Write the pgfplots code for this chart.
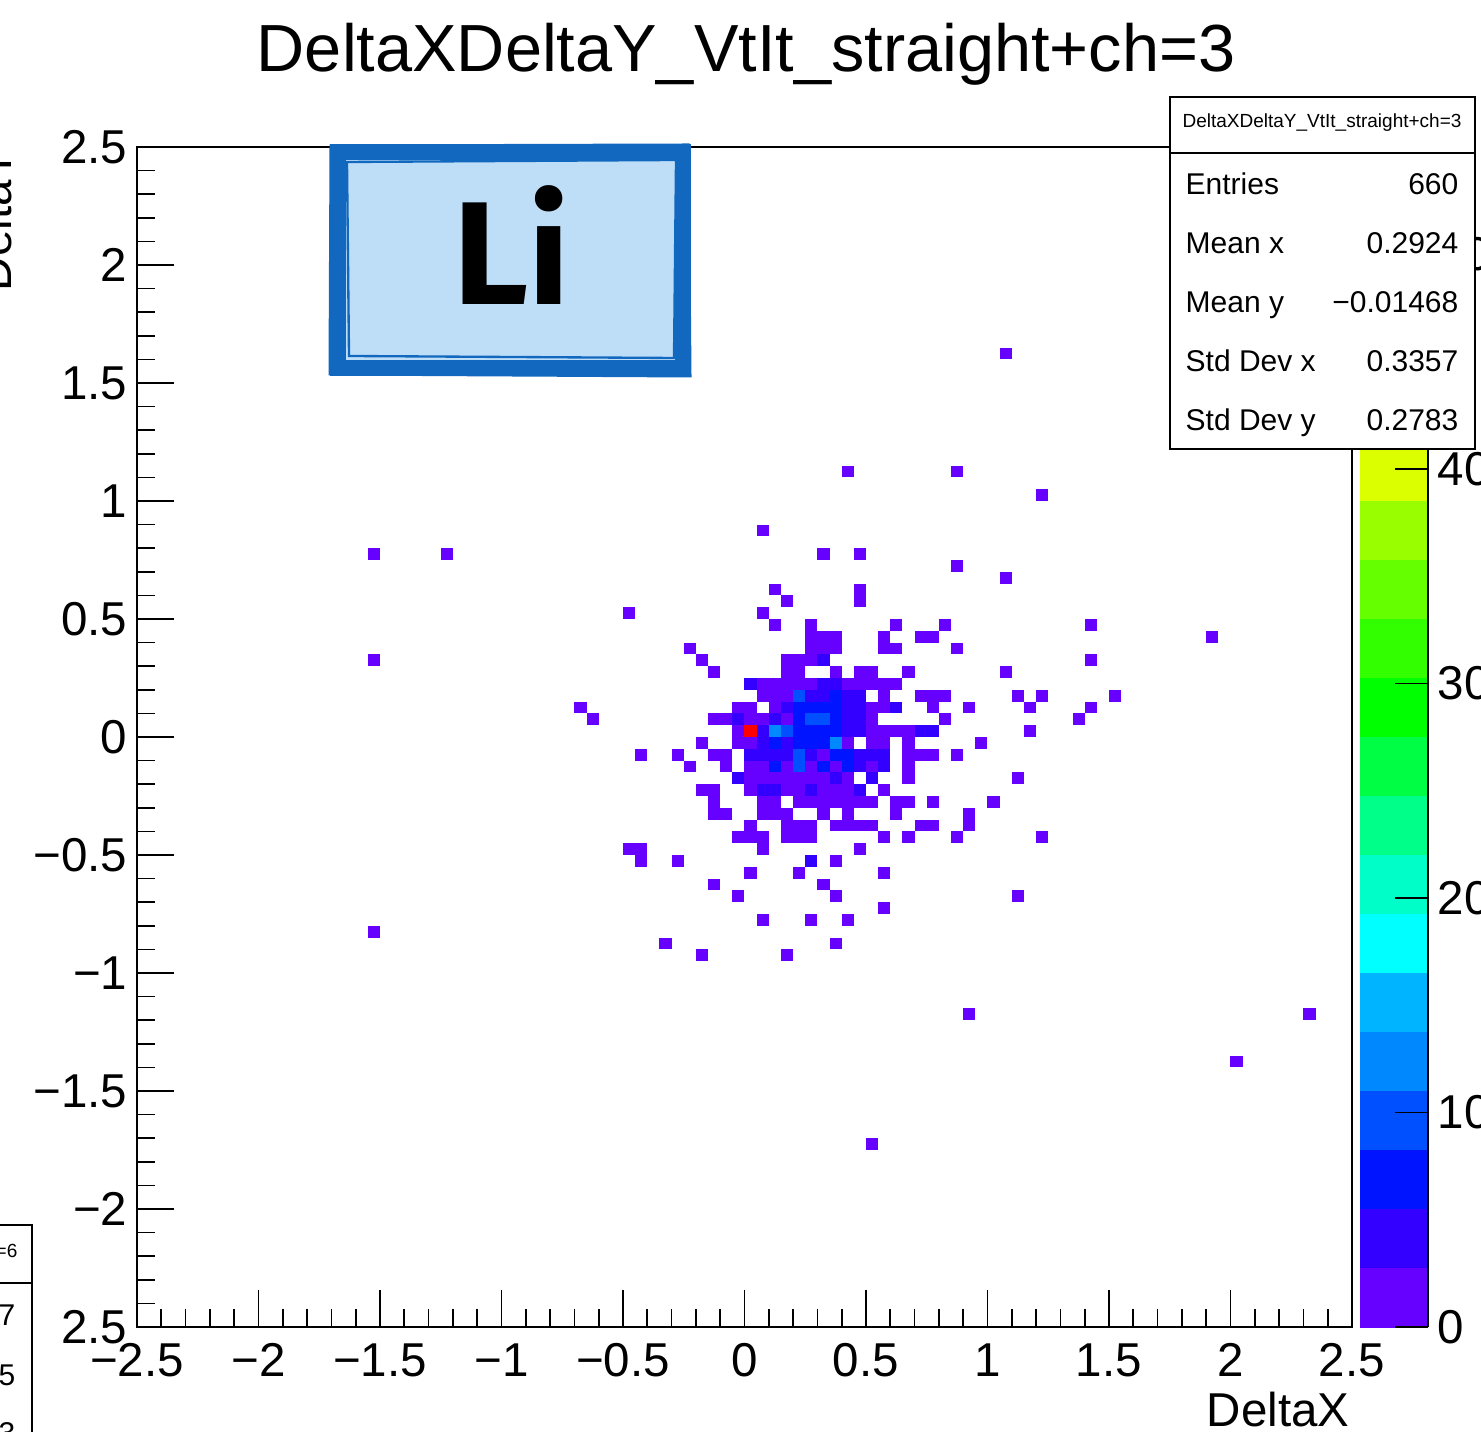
\documentclass[border=0pt]{standalone}
\usepackage{pgfplots}
\pgfplotsset{compat=1.18}
\usepackage{fontspec}
\setmainfont{Liberation Sans}
\newfontfamily\lifont{Fira Sans}
\newcommand\tickfont{\fontsize{14.25pt}{16pt}\selectfont}
\newcommand\statfont{\fontsize{9pt}{11pt}\selectfont}
\newcommand\stattitlefont{\fontsize{5.7pt}{7pt}\selectfont}
\definecolor{stickerfill}{RGB}{190,222,247}
\definecolor{stickerblue}{RGB}{18,104,190}
\pgfdeclareplotmark{bin}{\pgfpathrectangle{\pgfqpoint{-1.8225pt}{-1.77pt}}{\pgfqpoint{3.645pt}{3.54pt}}\pgfusepathqfill}
\pgfplotsset{
  colormap={rootpal}{
    rgb255=(102,0,255) rgb255=(51,0,255) rgb255=(0,20,255) rgb255=(0,80,255) rgb255=(0,136,255)
    rgb255=(0,180,255) rgb255=(0,255,255) rgb255=(0,255,200) rgb255=(0,255,136) rgb255=(0,255,68)
    rgb255=(0,255,0) rgb255=(50,255,0) rgb255=(102,255,0) rgb255=(153,255,0) rgb255=(220,255,0)
    rgb255=(255,255,0) rgb255=(255,200,0) rgb255=(255,140,0) rgb255=(255,70,0) rgb255=(255,0,0)
  }
}
\begin{document}
\begin{tikzpicture}
\clip (0,0) rectangle (444.3pt,429.3pt);
\fill[white] (0,0) rectangle (444.3pt,429.3pt);
\begin{axis}[
  at={(41.1pt,31.2pt)}, anchor=south west,
  scale only axis, width=364.5pt, height=354pt,
  xmin=-2.5, xmax=2.5, ymin=-2.5, ymax=2.5,
  xtick={-2.5,-2,-1.5,-1,-0.5,0,0.5,1,1.5,2,2.5},
  xticklabels={−2.5,−2,−1.5,−1,−0.5,0,0.5,1,1.5,2,2.5},
  ytick={-2.5,-2,-1.5,-1,-0.5,0,0.5,1,1.5,2,2.5},
  yticklabels={2.5,−2,−1.5,−1,−0.5,0,0.5,1,1.5,2,2.5},
  minor tick num=4,
  tick align=inside, xtick pos=left, ytick pos=left,
  major tick length=11pt, minor tick length=5.5pt,
  every tick/.style={black, line width=0.5pt},
  axis line style={line width=0.5pt},
  tick label style={font=\tickfont},
  xticklabel style={anchor=base, inner sep=0pt, yshift=-14.7pt},
  yticklabel style={anchor=east, inner sep=0pt, xshift=-2.7pt},
  point meta min=0, point meta max=55,
  colormap name=rootpal, colormap access=piecewise constant,
  colorbar,
  colorbar style={
    at={(parent axis.south east)}, anchor=south west, xshift=-6.13pt,
    scale only axis, width=20.4pt, height=354pt,
    axis x line=none, axis y line*=right,
    ytick={0,10,20,30,40,50}, yticklabels={0,10,20,30,40,50},
    minor tick num=0,
    tick align=inside, major tick length=9.9pt,
    yticklabel pos=right,
    yticklabel style={anchor=west, inner sep=0pt, xshift=2.7pt, font=\tickfont},
    every tick/.style={black, line width=0.5pt},
    axis line style={line width=0.5pt},
  },
]
\addplot[scatter, only marks, mark=bin, point meta=explicit,
  scatter/use mapped color={draw=mapped color, fill=mapped color}]
  table[x=x, y=y, meta=c] {
x y c
1.075 1.625 1
0.425 1.125 1
0.875 1.125 1
1.225 1.025 1
0.075 0.875 1
-1.525 0.775 1
-1.225 0.775 1
0.325 0.775 1
0.475 0.775 1
0.875 0.725 1
1.075 0.675 1
0.125 0.625 1
0.475 0.625 1
0.475 0.575 1
0.175 0.575 1
-0.475 0.525 1
0.075 0.525 1
1.425 0.475 1
1.925 0.425 1
-1.525 0.325 1
1.425 0.325 1
1.075 0.275 1
1.125 0.175 1
1.225 0.175 1
1.525 0.175 1
1.175 0.125 1
1.425 0.125 1
1.375 0.075 1
1.175 0.025 1
-0.675 0.125 1
-0.625 0.075 1
-0.225 0.375 1
-1.525 -0.825 1
0.925 -1.175 1
2.325 -1.175 1
2.025 -1.375 1
0.525 -1.725 1
-0.325 -0.875 1
-0.175 -0.925 1
0.175 -0.925 1
0.375 -0.875 1
0.075 -0.775 1
0.275 -0.775 1
0.425 -0.775 1
0.575 -0.725 1
1.125 -0.675 1
-0.025 -0.675 1
0.375 -0.675 1
0.325 -0.625 1
-0.125 -0.625 1
0.575 -0.575 1
0.025 -0.575 1
0.225 -0.575 1
-0.275 -0.525 1
0.275 -0.525 4
0.375 -0.525 1
-0.425 -0.525 1
-0.475 -0.475 1
-0.425 -0.475 1
1.225 -0.425 1
1.125 -0.175 1
1.025 -0.275 1
-0.425 -0.075 1
-0.275 -0.075 1
-0.225 -0.125 1
0.125 0.475 1
0.275 0.475 1
0.275 0.425 1
0.325 0.425 1
0.375 0.425 1
0.275 0.375 1
0.325 0.375 1
0.375 0.375 1
-0.175 0.325 1
0.175 0.325 1
0.225 0.325 1
0.275 0.325 1
0.325 0.325 4
-0.125 0.275 1
0.175 0.275 1
0.225 0.275 1
0.375 0.275 1
0.025 0.225 4
0.075 0.225 1
0.125 0.225 1
0.175 0.225 1
0.225 0.225 1
0.275 0.225 1
0.325 0.225 4
0.375 0.225 4
0.075 0.175 1
0.125 0.175 1
0.175 0.175 1
0.225 0.175 10
0.275 0.175 4
0.325 0.175 4
0.375 0.175 7
-0.025 0.125 1
0.025 0.125 1
0.125 0.125 1
0.175 0.125 4
0.225 0.125 7
0.275 0.125 7
0.325 0.125 7
0.375 0.125 7
-0.125 0.075 1
-0.075 0.075 1
-0.025 0.075 4
0.025 0.075 1
0.075 0.075 1
0.125 0.075 4
0.175 0.075 1
0.225 0.075 7
0.275 0.075 10
0.325 0.075 10
0.375 0.075 7
-0.025 0.025 1
0.025 0.025 55
0.075 0.025 4
0.125 0.025 13
0.175 0.025 10
0.225 0.025 7
0.275 0.025 7
0.325 0.025 7
0.375 0.025 7
0.625 0.475 1
0.825 0.475 1
0.575 0.425 1
0.725 0.425 1
0.775 0.425 1
0.575 0.375 1
0.625 0.375 1
0.875 0.375 1
0.475 0.275 1
0.525 0.275 1
0.675 0.275 1
0.425 0.225 1
0.475 0.225 1
0.525 0.225 1
0.575 0.225 1
0.625 0.225 1
0.425 0.175 4
0.475 0.175 4
0.575 0.175 1
0.725 0.175 1
0.775 0.175 1
0.825 0.175 1
0.425 0.125 4
0.475 0.125 4
0.525 0.125 1
0.575 0.125 1
0.625 0.125 4
0.775 0.125 1
0.925 0.125 1
0.425 0.075 4
0.475 0.075 4
0.525 0.075 1
0.825 0.075 1
0.425 0.025 4
0.475 0.025 4
0.525 0.025 1
0.575 0.025 1
0.625 0.025 1
0.675 0.025 1
0.725 0.025 4
0.775 0.025 4
-0.175 -0.025 1
-0.025 -0.025 1
0.025 -0.025 1
0.075 -0.025 4
0.125 -0.025 7
0.175 -0.025 4
0.225 -0.025 7
0.275 -0.025 7
0.325 -0.025 7
0.375 -0.025 13
-0.125 -0.075 1
-0.075 -0.075 1
0.025 -0.075 4
0.075 -0.075 4
0.125 -0.075 4
0.175 -0.075 4
0.225 -0.075 10
0.275 -0.075 4
0.325 -0.075 1
0.375 -0.075 7
-0.075 -0.125 1
0.025 -0.125 1
0.075 -0.125 1
0.125 -0.125 7
0.175 -0.125 1
0.225 -0.125 10
0.275 -0.125 1
0.325 -0.125 7
0.375 -0.125 1
-0.025 -0.175 4
0.025 -0.175 1
0.075 -0.175 1
0.125 -0.175 1
0.175 -0.175 1
0.225 -0.175 1
0.275 -0.175 1
0.325 -0.175 1
0.375 -0.175 4
-0.175 -0.225 1
-0.125 -0.225 1
0.025 -0.225 1
0.075 -0.225 4
0.125 -0.225 4
0.175 -0.225 1
0.225 -0.225 1
0.275 -0.225 4
0.325 -0.225 1
0.375 -0.225 1
-0.125 -0.275 1
0.075 -0.275 1
0.125 -0.275 1
0.225 -0.275 1
0.275 -0.275 1
0.325 -0.275 1
0.375 -0.275 1
-0.125 -0.325 1
-0.075 -0.325 1
0.075 -0.325 1
0.125 -0.325 1
0.175 -0.325 1
0.325 -0.325 1
0.025 -0.375 1
0.175 -0.375 1
0.225 -0.375 1
0.275 -0.375 1
0.375 -0.375 1
-0.025 -0.425 1
0.025 -0.425 1
0.075 -0.425 1
0.175 -0.425 1
0.225 -0.425 1
0.275 -0.425 1
0.075 -0.475 1
0.425 -0.025 1
0.525 -0.025 1
0.575 -0.025 1
0.675 -0.025 1
0.975 -0.025 1
0.425 -0.075 7
0.475 -0.075 4
0.525 -0.075 4
0.575 -0.075 4
0.675 -0.075 1
0.725 -0.075 1
0.775 -0.075 1
0.875 -0.075 1
0.425 -0.125 7
0.475 -0.125 4
0.525 -0.125 1
0.575 -0.125 4
0.675 -0.125 1
0.425 -0.175 1
0.525 -0.175 4
0.675 -0.175 1
0.425 -0.225 1
0.475 -0.225 4
0.575 -0.225 1
0.425 -0.275 1
0.475 -0.275 1
0.525 -0.275 1
0.625 -0.275 1
0.675 -0.275 1
0.775 -0.275 1
0.425 -0.325 1
0.625 -0.325 1
0.925 -0.325 1
0.425 -0.375 1
0.475 -0.375 1
0.525 -0.375 1
0.725 -0.375 1
0.775 -0.375 1
0.925 -0.375 1
0.575 -0.425 1
0.675 -0.425 1
0.875 -0.425 1
0.475 -0.475 1
};
\end{axis}
\begin{scope}[x=0.3pt,y=0.3pt]
% title
\node[anchor=base, font=\fontsize{20pt}{24pt}\selectfont, inner sep=0pt] at (746,1359) {DeltaXDeltaY\_VtIt\_straight+ch=3};
% axis titles
\node[anchor=base east, font=\tickfont, inner sep=0pt] at (1350,5) {DeltaX};
\node[rotate=90, anchor=base east, font=\tickfont, inner sep=0pt] at (12,1283) {DeltaY};
% sticker
\fill[stickerfill] (336,1431-149) rectangle (686,1431-371);
\draw[stickerblue, line width=4.8pt] (338,1431-152) rectangle (683,1431-368);
\draw[stickerblue, line width=0.9pt] (331,1431-146) -- (688,1431-145) -- (690,1431-376) -- (330,1431-374) -- cycle;
\draw[stickerblue, line width=0.7pt] (347,1431-162) -- (676,1431-160) -- (674,1431-358) -- (349,1431-356) -- cycle;
\node[font=\lifont\bfseries\fontsize{44pt}{48pt}\selectfont, anchor=base, inner sep=0pt] at (512,1431-305) {Li};
% stats box
\draw[line width=0.5pt, fill=white] (1170,1431-97) rectangle (1475,1431-449);
\draw[line width=0.5pt] (1170,1431-153) -- (1475,1431-153);
\node[font=\stattitlefont, anchor=center, inner sep=0pt] at (1322,1431-123) {DeltaXDeltaY\_VtIt\_straight+ch=3};
\node[anchor=base west, font=\statfont, inner sep=0pt] at (1185,1431-195) {Entries};
\node[anchor=base east, font=\statfont, inner sep=0pt] at (1459,1431-195) {660};
\node[anchor=base west, font=\statfont, inner sep=0pt] at (1185,1431-254) {Mean x};
\node[anchor=base east, font=\statfont, inner sep=0pt] at (1459,1431-254) {0.2924};
\node[anchor=base west, font=\statfont, inner sep=0pt] at (1185,1431-313) {Mean y};
\node[anchor=base east, font=\statfont, inner sep=0pt] at (1459,1431-313) {−0.01468};
\node[anchor=base west, font=\statfont, inner sep=0pt] at (1185,1431-372) {Std Dev x};
\node[anchor=base east, font=\statfont, inner sep=0pt] at (1459,1431-372) {0.3357};
\node[anchor=base west, font=\statfont, inner sep=0pt] at (1185,1431-431) {Std Dev y};
\node[anchor=base east, font=\statfont, inner sep=0pt] at (1459,1431-431) {0.2783};
% partial box of neighbouring pad
\draw[line width=0.5pt, fill=white] (-40,1431-1225) rectangle (32,-20);
\draw[line width=0.5pt] (-40,1431-1283) -- (32,1431-1283);
\node[anchor=base east, font=\stattitlefont, inner sep=0pt] at (18,1431-1257) {ch=6};
\node[anchor=base east, font=\statfont, inner sep=0pt] at (16,1431-1325) {0.2927};
\node[anchor=base east, font=\statfont, inner sep=0pt] at (16,1431-1385) {0.3115};
\node[anchor=base east, font=\statfont, inner sep=0pt] at (16,1431-1443) {0.2783};
\end{scope}
\end{tikzpicture}
\end{document}
